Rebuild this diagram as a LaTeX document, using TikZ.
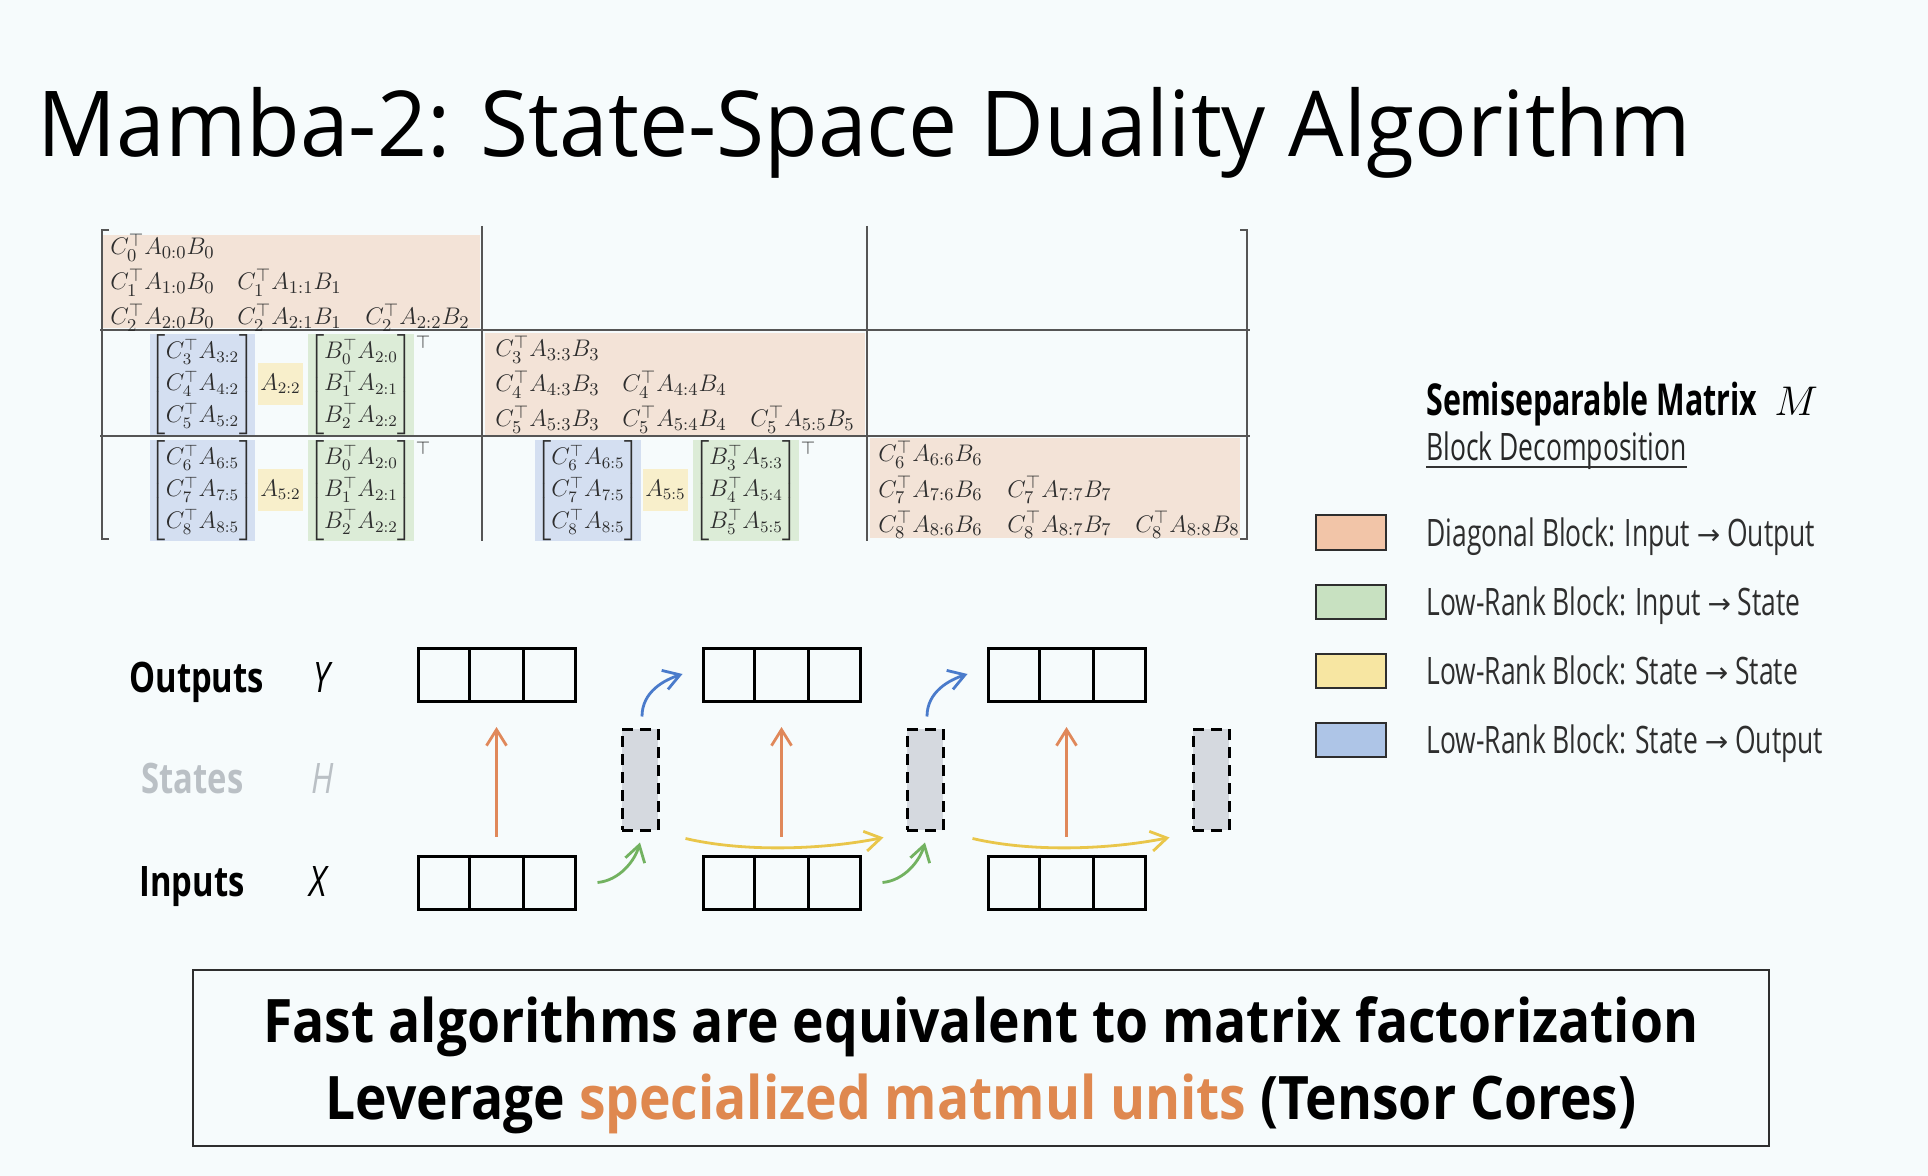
\documentclass[tikz,border=0pt]{standalone}
\usepackage{amsmath}
\usepackage[no-math]{fontspec}
\setmainfont{Open Sans}
\newfontfamily\titlef[FakeStretch=0.962]{Open Sans}
\newfontfamily\condf[FakeStretch=0.78]{Open Sans}
\newfontfamily\headf[FakeStretch=0.69]{Open Sans}
\newfontfamily\legf[FakeStretch=0.70]{Open Sans}
\newfontfamily\botf[FakeStretch=0.89]{Open Sans}
\newfontfamily\arrf{DejaVu Sans}
\usetikzlibrary{arrows.meta,calc}
\definecolor{bgc}{HTML}{F6FBFC}
\definecolor{cDiag}{HTML}{F3E3D7}
\definecolor{cBlue}{HTML}{D4DFF1}
\definecolor{cGreen}{HTML}{DCECD7}
\definecolor{cYellow}{HTML}{F8EFCB}
\definecolor{sDiag}{HTML}{F2C5A8}
\definecolor{sGreen}{HTML}{C8E1C1}
\definecolor{sYellow}{HTML}{F7E6A2}
\definecolor{sBlue}{HTML}{AEC5E7}
\definecolor{mtxtext}{HTML}{2E2E2E}
\definecolor{gridc}{HTML}{555555}
\definecolor{aOrange}{HTML}{E0885A}
\definecolor{aYellow}{HTML}{E9C64A}
\definecolor{aGreen}{HTML}{72B260}
\definecolor{aBlue}{HTML}{4A7BCB}
\definecolor{stateText}{HTML}{BAC0C5}
\definecolor{stateFill}{HTML}{D5D9DF}
\definecolor{hiOrange}{HTML}{DF884F}
\newcommand\mtxfont{\fontsize{12.9}{16}\selectfont}
\newcommand\lrfont{\fontsize{11.6}{16}\selectfont}
\newcommand\lr[3]{$\left[\begin{array}{@{}l@{}}#1\\#2\\#3\end{array}\right]$}
\newcommand\legarrow{\raisebox{0.6pt}{\arrf\fontsize{14}{16}\selectfont →}}
\tikzset{
  mtx/.style={anchor=base west,inner sep=0pt,text=mtxtext,font=\mtxfont},
  lrb/.style={fill=cBlue,inner sep=0pt,text=mtxtext,font=\lrfont,minimum width=50.5pt,minimum height=47.5pt},
  lrg/.style={fill=cGreen,inner sep=0pt,text=mtxtext,font=\lrfont,minimum width=49pt,minimum height=47.5pt},
  lry/.style={fill=cYellow,inner sep=0pt,text=mtxtext,font=\lrfont,minimum width=22.5pt,minimum height=21pt},
  tsup/.style={inner sep=0pt,text=mtxtext,font=\fontsize{9}{10}\selectfont},
  gridline/.style={draw=gridc,line width=0.75pt},
  seqbox/.style={draw=black,line width=1.5pt,minimum width=78.5pt,minimum height=26.5pt,inner sep=0pt},
  statebox/.style={draw=black,fill=stateFill,line width=1.5pt,dash pattern=on 5.5pt off 3.5pt,minimum width=18pt,minimum height=50.5pt,inner sep=0pt},
  seqline/.style={draw=black,line width=1.5pt},
  flow/.style={line width=1.4pt,-{Straight Barb[length=8pt,width=10pt]}},
  rowlbl/.style={anchor=base west,inner sep=0pt,font=\condf\bfseries\fontsize{21}{25}\selectfont},
  varlbl/.style={anchor=base west,inner sep=0pt,font=\condf\itshape\fontsize{21}{25}\selectfont},
  swatch/.style={draw=mtxtext,line width=1pt,minimum width=35pt,minimum height=17pt,inner sep=0pt},
  legtxt/.style={anchor=base west,inner sep=0pt,text=mtxtext,font=\legf\fontsize{18.9}{22}\selectfont},
  bigtxt/.style={anchor=base,inner sep=0pt,font=\botf\bfseries\fontsize{30}{34}\selectfont},
}
\begin{document}
\begin{tikzpicture}[x=0.5pt,y=-0.5pt]
\useasboundingbox (0,0) rectangle (1928,1176);
\fill[bgc] (0,0) rectangle (1928,1176);
% title
\node[anchor=base west,inner sep=0pt,font=\titlef\fontsize{45.5}{50}\selectfont] (title) at (37,157) {Mamba-2: State-Space Duality Algorithm};
% diagonal block fills
\fill[cDiag] (102,235) rectangle (480,328);
\fill[cDiag] (485,333) rectangle (865,435);
\fill[cDiag] (870,438) rectangle (1240,538);
% grid
\draw[gridline] (100,330) -- (1250,330);
\draw[gridline] (100,436) -- (1250,436);
\draw[gridline] (482,226) -- (482,541);
\draw[gridline] (867,226) -- (867,541);
\draw[gridline] (109,230) -- (102,230) -- (102,539) -- (109,539);
\draw[gridline] (1240,230) -- (1247,230) -- (1247,539) -- (1240,539);
% block 1
\node[mtx] (m00a) at (110,255) {$C_0^\top A_{0{:}0}B_0$};
\node[mtx] (m10a) at (110,290) {$C_1^\top A_{1{:}0}B_0$};
\node[mtx] (m11a) at (237,290) {$C_1^\top A_{1{:}1}B_1$};
\node[mtx] (m20a) at (110,325) {$C_2^\top A_{2{:}0}B_0$};
\node[mtx] (m21a) at (237,325) {$C_2^\top A_{2{:}1}B_1$};
\node[mtx] (m22a) at (365,325) {$C_2^\top A_{2{:}2}B_2$};
% block 2
\node[mtx] (m33) at (495,357) {$C_3^\top A_{3{:}3}B_3$};
\node[mtx] (m43) at (495,392) {$C_4^\top A_{4{:}3}B_3$};
\node[mtx] (m44) at (622,392) {$C_4^\top A_{4{:}4}B_4$};
\node[mtx] (m53) at (495,427) {$C_5^\top A_{5{:}3}B_3$};
\node[mtx] (m54) at (622,427) {$C_5^\top A_{5{:}4}B_4$};
\node[mtx] (m55) at (750,427) {$C_5^\top A_{5{:}5}B_5$};
% block 3
\node[mtx] (m66) at (878,462) {$C_6^\top A_{6{:}6}B_6$};
\node[mtx] (m76) at (878,497) {$C_7^\top A_{7{:}6}B_6$};
\node[mtx] (m77) at (1007,497) {$C_7^\top A_{7{:}7}B_7$};
\node[mtx] (m86) at (878,532) {$C_8^\top A_{8{:}6}B_6$};
\node[mtx] (m87) at (1007,532) {$C_8^\top A_{8{:}7}B_7$};
\node[mtx] (m88) at (1135,532) {$C_8^\top A_{8{:}8}B_8$};
% low-rank block (1,0)
\node[lrb] (b10) at (202.5,384.5) {\lr{C_3^\top A_{3{:}2}}{C_4^\top A_{4{:}2}}{C_5^\top A_{5{:}2}}};
\node[lry] (y10) at (280.5,384) {$A_{2{:}2}$};
\node[lrg] (g10) at (361,384.5) {\lr{B_0^\top A_{2{:}0}}{B_1^\top A_{2{:}1}}{B_2^\top A_{2{:}2}}};
\node[tsup] (t10) at (423,342) {$\top$};
% low-rank block (2,0)
\node[lrb] (b20) at (202.5,490.5) {\lr{C_6^\top A_{6{:}5}}{C_7^\top A_{7{:}5}}{C_8^\top A_{8{:}5}}};
\node[lry] (y20) at (280.5,490) {$A_{5{:}2}$};
\node[lrg] (g20) at (361,490.5) {\lr{B_0^\top A_{2{:}0}}{B_1^\top A_{2{:}1}}{B_2^\top A_{2{:}2}}};
\node[tsup] (t20) at (423,448) {$\top$};
% low-rank block (2,1)
\node[lrb] (b21) at (588,490.5) {\lr{C_6^\top A_{6{:}5}}{C_7^\top A_{7{:}5}}{C_8^\top A_{8{:}5}}};
\node[lry] (y21) at (665.5,490) {$A_{5{:}5}$};
\node[lrg] (g21) at (746,490.5) {\lr{B_3^\top A_{5{:}3}}{B_4^\top A_{5{:}4}}{B_5^\top A_{5{:}5}}};
\node[tsup] (t21) at (808,448) {$\top$};
% legend
\node[anchor=base west,inner sep=0pt,font=\headf\bfseries\fontsize{22}{26}\selectfont] (legT) at (1426,416) {Semiseparable Matrix};
\node[anchor=base west,inner sep=0pt,font=\fontsize{22}{26}\selectfont] (legM) at (1774,416) {$M$};
\node[legtxt,text=black!85] (legB) at (1426,461) {Block Decomposition};
\draw[line width=0.9pt,black!80] ($(legB.base west)+(0,6)$) -- ($(legB.base east)+(0,6)$);
\node[swatch,fill=sDiag] (sw1) at (1351,532.5) {};
\node[swatch,fill=sGreen] (sw2) at (1351,601.5) {};
\node[swatch,fill=sYellow] (sw3) at (1351,670.5) {};
\node[swatch,fill=sBlue] (sw4) at (1351,739.5) {};
\node[legtxt] (l1) at (1426,546) {Diagonal Block: Input \legarrow{} Output};
\node[legtxt] (l2) at (1426,615) {Low-Rank Block: Input \legarrow{} State};
\node[legtxt] (l3) at (1426,684) {Low-Rank Block: State \legarrow{} State};
\node[legtxt] (l4) at (1426,753) {Low-Rank Block: State \legarrow{} Output};
% row labels
\node[rowlbl] (lo) at (129,692) {Outputs};
\node[varlbl] (vy) at (313,692) {Y};
\node[rowlbl,text=stateText] (ls) at (141,793) {States};
\node[varlbl,text=stateText] (vh) at (311,793) {H};
\node[rowlbl] (li) at (139,896) {Inputs};
\node[varlbl] (vx) at (309,896) {X};
% sequence boxes
\node[seqbox] (y1) at (496.5,675) {};
\node[seqbox] (y2) at (781.5,675) {};
\node[seqbox] (y3) at (1066.5,675) {};
\node[seqbox] (x1) at (496.5,882.5) {};
\node[seqbox] (x2) at (781.5,882.5) {};
\node[seqbox] (x3) at (1066.5,882.5) {};
\foreach \n in {y1,y2,y3,x1,x2,x3}{
  \draw[seqline] ($(\n.north west)!1/3!(\n.north east)$) -- ($(\n.south west)!1/3!(\n.south east)$);
  \draw[seqline] ($(\n.north west)!2/3!(\n.north east)$) -- ($(\n.south west)!2/3!(\n.south east)$);
}
% state boxes
\node[statebox] (h1) at (640,779.5) {};
\node[statebox] (h2) at (925,779.5) {};
\node[statebox] (h3) at (1211,779.5) {};
% orange arrows
\draw[flow,aOrange] ($(x1.north)+(0,-18)$) -- ($(y1.south)+(0,24)$);
\draw[flow,aOrange] ($(x2.north)+(0,-18)$) -- ($(y2.south)+(0,24)$);
\draw[flow,aOrange] ($(x3.north)+(0,-18)$) -- ($(y3.south)+(0,24)$);
% green arrows
\draw[flow,aGreen] ($(x1.east)+(21,0)$) .. controls +(22,-2) and +(-5,18) .. ($(h1.south)+(0,11)$);
\draw[flow,aGreen] ($(x2.east)+(21,0)$) .. controls +(22,-2) and +(-5,18) .. ($(h2.south)+(0,11)$);
% blue arrows
\draw[flow,aBlue] ($(h1.north)+(2,-11)$) .. controls +(0,-25) and +(-18,6) .. ($(y2.west)+(-19,-1)$);
\draw[flow,aBlue] ($(h2.north)+(2,-11)$) .. controls +(0,-25) and +(-18,6) .. ($(y3.west)+(-19,-1)$);
% yellow arrows
\draw[flow,aYellow] ($(h1.south east)+(26,7)$) .. controls +(60,14) and +(-60,12) .. ($(h2.south west)+(-22,6)$);
\draw[flow,aYellow] ($(h2.south east)+(28,7)$) .. controls +(60,14) and +(-60,12) .. ($(h3.south west)+(-22,6)$);
% bottom box
\node[draw=mtxtext,line width=1pt,minimum width=788pt,minimum height=88pt,inner sep=0pt] (bot) at (981,1058) {};
\node[bigtxt] (bt1) at (981,1042) {Fast algorithms are equivalent to matrix factorization};
\node[bigtxt] (bt2) at (981,1119) {Leverage \textcolor{hiOrange}{specialized matmul units} (Tensor Cores)};
\end{tikzpicture}
\end{document}
